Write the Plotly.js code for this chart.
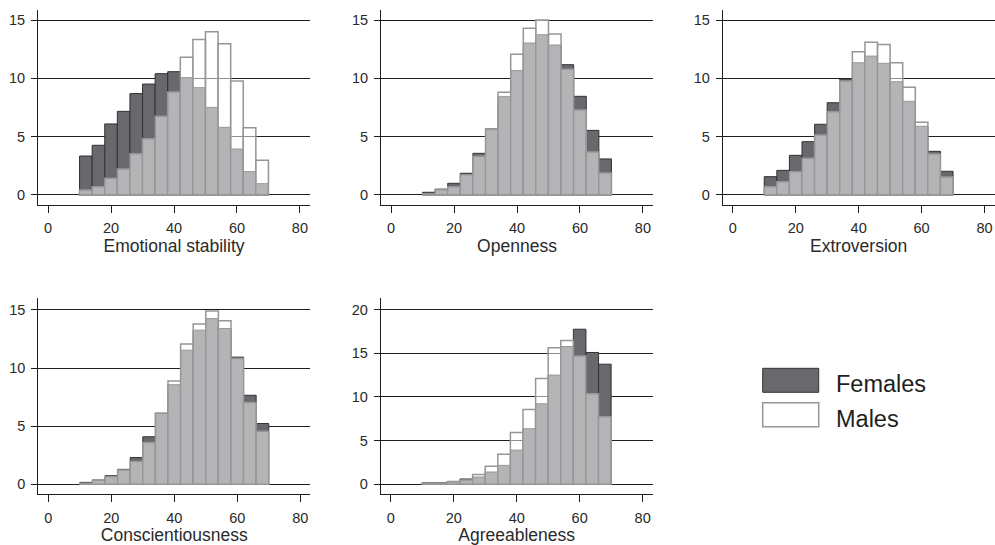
<!DOCTYPE html>
<html>
<head>
<meta charset="utf-8">
<script src="https://cdn.plot.ly/plotly-3.0.1.min.js"></script>
<style>html,body{margin:0;padding:0;background:#fff;}#chart{width:995px;height:545px;}</style>
</head>
<body>
<div id="chart"></div>
<script>
const binCenters = [12,16,20,24,28,32,36,40,44,48,52,56,60,64,68];
const traitNames = ["Emotional stability","Openness","Extroversion","Conscientiousness","Agreeableness"];
const xTicks = [0,20,40,60,80];
const yTicks15 = [0,5,10,15];
const yTicks20 = [0,5,10,15,20];

const emotionalF = [3.34,4.26,6.09,7.17,8.69,9.51,10.4,10.57,10.06,9.2,7.51,5.8,3.94,2.0,0.97];
const emotionalM = [0.43,0.71,1.43,2.23,3.54,4.83,6.74,8.83,11.8,13.34,14.0,12.97,9.77,5.77,2.97];
const opennessF = [0.23,0.5,1.0,1.86,3.57,5.66,8.43,10.66,13.03,13.74,12.86,11.17,8.46,5.54,3.09];
const opennessM = [0.1,0.45,0.71,1.74,3.31,5.66,8.8,12.06,14.29,15.0,13.8,10.77,7.29,3.69,1.89];
const extroversionF = [1.57,2.11,3.4,4.57,6.06,7.91,9.94,11.34,11.91,11.29,9.71,8.03,5.89,3.74,2.03];
const extroversionM = [0.71,1.14,2.0,3.14,5.14,7.14,9.77,12.29,13.09,12.91,11.34,9.23,6.23,3.51,1.54];
const conscientiousnessF = [0.17,0.37,0.74,1.29,2.31,4.09,6.11,8.57,11.54,13.26,14.26,13.4,10.94,7.66,5.23];
const conscientiousnessM = [0.1,0.35,0.66,1.23,1.97,3.6,6.11,8.89,12.06,13.8,14.91,14.06,10.83,7.03,4.57];
const agreeablenessF = [0.19,0.19,0.34,0.61,0.84,1.41,2.17,3.92,6.36,9.22,12.5,15.77,17.75,15.09,13.75];
const agreeablenessM = [0.15,0.15,0.3,0.5,1.14,2.06,3.43,5.94,8.57,12.11,15.62,16.46,14.7,10.36,7.73];

const femaleSeries = [emotionalF, opennessF, extroversionF, conscientiousnessF, agreeablenessF];
const maleSeries = [emotionalM, opennessM, extroversionM, conscientiousnessM, agreeablenessM];

const W = 995, H = 545;
// pixel boxes: [left, right, top, bottom]
const boxes = [
  [38, 310, 10, 205],
  [381, 653, 10, 205],
  [722.7, 994.6, 10, 205],
  [38.3, 310.3, 298.3, 494.3],
  [380.7, 652.7, 298.3, 494.3]
];
const yRanges = [[-0.86,15.86],[-0.86,15.86],[-0.86,15.86],[-0.857,16.0],[-1.14,21.29]];
const yTickSets = [yTicks15,yTicks15,yTicks15,yTicks15,yTicks20];

const FEMALE_FILL = 'rgb(104,104,109)';
const FEMALE_LINE = 'rgb(50,50,52)';
const MALE_FILL = 'rgba(255,255,255,0.5)';
const MALE_LINE = 'rgb(150,150,152)';
const INK = '#1e1e1e';
const FONT = 'Liberation Sans, Arial, Helvetica, sans-serif';

const data = [];
const layout = {
  width: W, height: H,
  margin: {l:0, r:0, t:0, b:0},
  paper_bgcolor: '#fff', plot_bgcolor: 'rgba(0,0,0,0)',
  barmode: 'overlay',
  bargap: 0,
  showlegend: false,
  font: {family: FONT, color: INK},
  shapes: [], annotations: []
};

for (let i = 0; i < 5; i++) {
  const n = i === 0 ? '' : String(i + 1);
  const xa = 'x' + n, ya = 'y' + n;
  data.push({
    type: 'bar', x: binCenters, y: femaleSeries[i], width: 4,
    xaxis: xa, yaxis: ya, name: 'Females',
    marker: {color: FEMALE_FILL, line: {color: FEMALE_LINE, width: 1}},
    hoverinfo: 'x+y'
  });
  data.push({
    type: 'bar', x: binCenters, y: maleSeries[i], width: 4,
    xaxis: xa, yaxis: ya, name: 'Males',
    marker: {color: MALE_FILL, line: {color: MALE_LINE, width: 1.5}},
    hoverinfo: 'x+y'
  });
  const b = boxes[i];
  layout['xaxis' + n] = {
    domain: [b[0]/W, b[1]/W], anchor: ya,
    range: [-3.2, 83.2], tickvals: xTicks, ticktext: xTicks.map(String),
    ticks: 'outside', ticklen: 7, tickwidth: 1, tickcolor: INK,
    showline: true, linecolor: INK, linewidth: 1,
    showgrid: false, zeroline: false, fixedrange: true,
    tickfont: {size: 14.5, color: '#2a2a2a', family: FONT},
    ticklabelstandoff: 3,
    title: {text: traitNames[i], font: {size: 17.5, color: '#2a2a2a', family: FONT}, standoff: 1}
  };
  layout['yaxis' + n] = {
    domain: [(H - b[3])/H, (H - b[2])/H], anchor: xa,
    range: yRanges[i], tickvals: yTickSets[i], ticktext: yTickSets[i].map(String),
    ticks: 'outside', ticklen: 6, tickwidth: 1, tickcolor: INK,
    showline: true, linecolor: INK, linewidth: 1,
    showgrid: true, gridcolor: INK, gridwidth: 1,
    zeroline: false, fixedrange: true,
    tickfont: {size: 14.5, color: '#2a2a2a', family: FONT},
    ticklabelstandoff: 3
  };
}

// legend drawn with shapes + text
const lx0 = 762.7/W, lx1 = 818.7/W;
layout.shapes.push({type:'rect', xref:'paper', yref:'paper', x0:lx0, x1:lx1,
  y0:(H-392.3)/H, y1:(H-368.3)/H, fillcolor: FEMALE_FILL, line:{color: FEMALE_LINE, width:1}});
layout.shapes.push({type:'rect', xref:'paper', yref:'paper', x0:lx0, x1:lx1,
  y0:(H-426.7)/H, y1:(H-402.7)/H, fillcolor: '#fff', line:{color: MALE_LINE, width:1.5}});
layout.annotations.push({xref:'paper', yref:'paper', x:834/W, y:(H-384)/H, xanchor:'left', yanchor:'middle',
  text:'Females', showarrow:false, font:{size:23.5, color:'#1e1e1e', family: FONT}});
layout.annotations.push({xref:'paper', yref:'paper', x:834/W, y:(H-418.5)/H, xanchor:'left', yanchor:'middle',
  text:'Males', showarrow:false, font:{size:23.5, color:'#1e1e1e', family: FONT}});

Plotly.newPlot('chart', data, layout, {staticPlot: true, displayModeBar: false});
</script>
</body>
</html>
